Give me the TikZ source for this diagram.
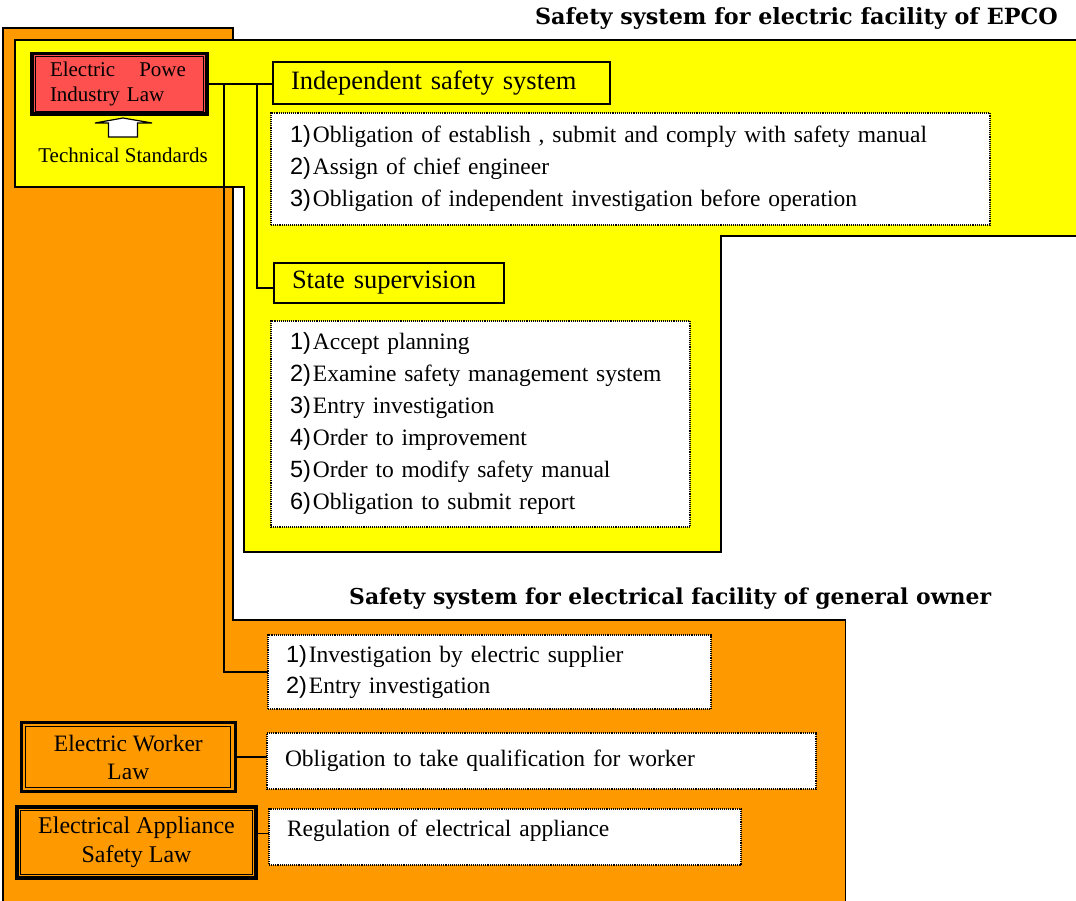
\documentclass[tikz,border=0pt]{standalone}
\usepackage{fontspec}
\setmainfont{Liberation Serif}
\setsansfont{Liberation Sans}
\newfontfamily\headfont{DejaVu Serif}
\definecolor{orangebg}{RGB}{255,153,0}
\definecolor{yellowbg}{RGB}{255,255,0}
\definecolor{lawred}{RGB}{255,80,80}
\newcommand\itemnum[1]{{\sffamily #1}\hspace{2pt}}
\begin{document}
\begin{tikzpicture}[x=1pt,y=-1pt,
  frame/.style={draw=black,line width=1.6pt},
  link/.style={draw=black,line width=1.4pt},
  headbox/.style={draw=black,fill=yellowbg,line width=1.6pt,anchor=north west,
    inner xsep=18pt,inner ysep=0pt,outer sep=0pt,align=left,
    font=\fontsize{26.5}{30}\selectfont},
  listbox/.style={draw=black,fill=white,densely dotted,line width=1.1pt,
    anchor=north west,inner xsep=19pt,inner ysep=0pt,outer sep=0pt,align=left,
    font=\fontsize{23.5}{32}\selectfont},
  lawbox/.style={draw=black,outer sep=0pt,inner ysep=0pt,align=center},
  title/.style={font=\headfont\bfseries\fontsize{22.3}{26}\selectfont,inner sep=0pt},
]
\useasboundingbox (0,0) rectangle (1076,901);
\clip (0,0) rectangle (1076,901);

% general owner area (orange) and EPCO area (yellow)
\filldraw[frame,fill=orangebg] (3,28) -- (233,28) -- (233,620) -- (845.5,620)
  -- (845.5,910) -- (3,910) -- cycle;
\filldraw[frame,line width=2pt,fill=yellowbg] (15,40) -- (1085,40) -- (1085,236)
  -- (721,236) -- (721,551.5) -- (244,551.5) -- (244,187) -- (15,187) -- cycle;

% titles
\node[title,anchor=base east] (epco) at (1058,25) {Safety system for electric facility of EPCO};
\node[title,font=\headfont\bfseries\fontsize{21.9}{26}\selectfont,anchor=base west] (owner) at (349,604)
  {Safety system for electrical facility of general owner};

% law boxes
\node[lawbox,fill=lawred,line width=3.5pt,text width=139pt,inner xsep=18pt,
  minimum height=60.5pt,align=left,font=\fontsize{21}{25}\selectfont]
  (law) at (119.5,84) {Electric\hspace{24pt}Powe\\Industry Law};
\draw[line width=0.9pt] ([xshift=3.2pt,yshift=-3.2pt]law.north west)
  rectangle ([xshift=-3.2pt,yshift=3.2pt]law.south east);

\node[lawbox,fill=orangebg,line width=3.3pt,minimum width=213.7pt,minimum height=69.4pt,
  font=\fontsize{23.5}{28}\selectfont]
  (worker) at (128.35,757) {Electric Worker\\Law};
\draw[line width=0.9pt] ([xshift=4.4pt,yshift=-4.4pt]worker.north west)
  rectangle ([xshift=-4.4pt,yshift=4.4pt]worker.south east);

\node[lawbox,fill=orangebg,line width=4pt,minimum width=238.6pt,minimum height=71pt,
  font=\fontsize{24}{29}\selectfont]
  (appl) at (136.5,842.5) {Electrical Appliance\\Safety Law};
\draw[line width=0.9pt] ([xshift=3.6pt,yshift=-3.6pt]appl.north west)
  rectangle ([xshift=-3.6pt,yshift=3.6pt]appl.south east);

% technical standards feeding the law
\node[font=\fontsize{21}{25}\selectfont,anchor=base,inner sep=0pt] (tech) at (123,162.5) {Technical Standards};
\draw[fill=white,line width=1.2pt] (108.5,137) -- (108.5,123) -- (95,123) -- (123,118)
  -- (152,123) -- (137.5,123) -- (137.5,137) -- cycle;

% section headings
\node[headbox,text width=301pt,minimum height=42pt] (ind) at (273,62.3) {Independent safety system};
\node[headbox,text width=194pt,minimum height=40pt] (state) at (274,263) {State supervision};

% item lists
\node[listbox,text width=681pt,minimum height=112pt] (indlist) at (271,113)
  {\itemnum{1)}Obligation of establish , submit and comply with safety manual\\
   \itemnum{2)}Assign of chief engineer\\
   \itemnum{3)}Obligation of independent investigation before operation};
\node[listbox,text width=381pt,minimum height=206pt] (statelist) at (271,321)
  {\itemnum{1)}Accept planning\\
   \itemnum{2)}Examine safety management system\\
   \itemnum{3)}Entry investigation\\
   \itemnum{4)}Order to improvement\\
   \itemnum{5)}Order to modify safety manual\\
   \itemnum{6)}Obligation to submit report};
\node[listbox,inner xsep=18pt,text width=407pt,minimum height=74pt,
  font=\fontsize{23.5}{31}\selectfont] (genlist) at (268,635)
  {\itemnum{1)}Investigation by electric supplier\\
   \itemnum{2)}Entry investigation};
\node[listbox,inner xsep=18pt,text width=513pt,minimum height=56pt] (workerlist) at (267,733)
  {Obligation to take qualification for worker};
\node[listbox,inner xsep=18pt,text width=436pt,text height=27pt,text depth=29pt] (appllist) at (269,809)
  {Regulation of electrical appliance};

% connectors
\path (law.east) ++(17,0) coordinate (tapgen) ++(33,0) coordinate (tapstate);
\draw[link] (law.east) -- (law.east -| ind.west);
\draw[link] (tapgen) |- (genlist.west);
\draw[link] (tapstate) |- ([yshift=-5pt]state.west);
\draw[link] (worker.east) -- (worker.east -| workerlist.west);
\draw[link] ([yshift=9pt]appl.east) -- ([yshift=9pt]appl.east -| appllist.west);
\end{tikzpicture}
\end{document}
